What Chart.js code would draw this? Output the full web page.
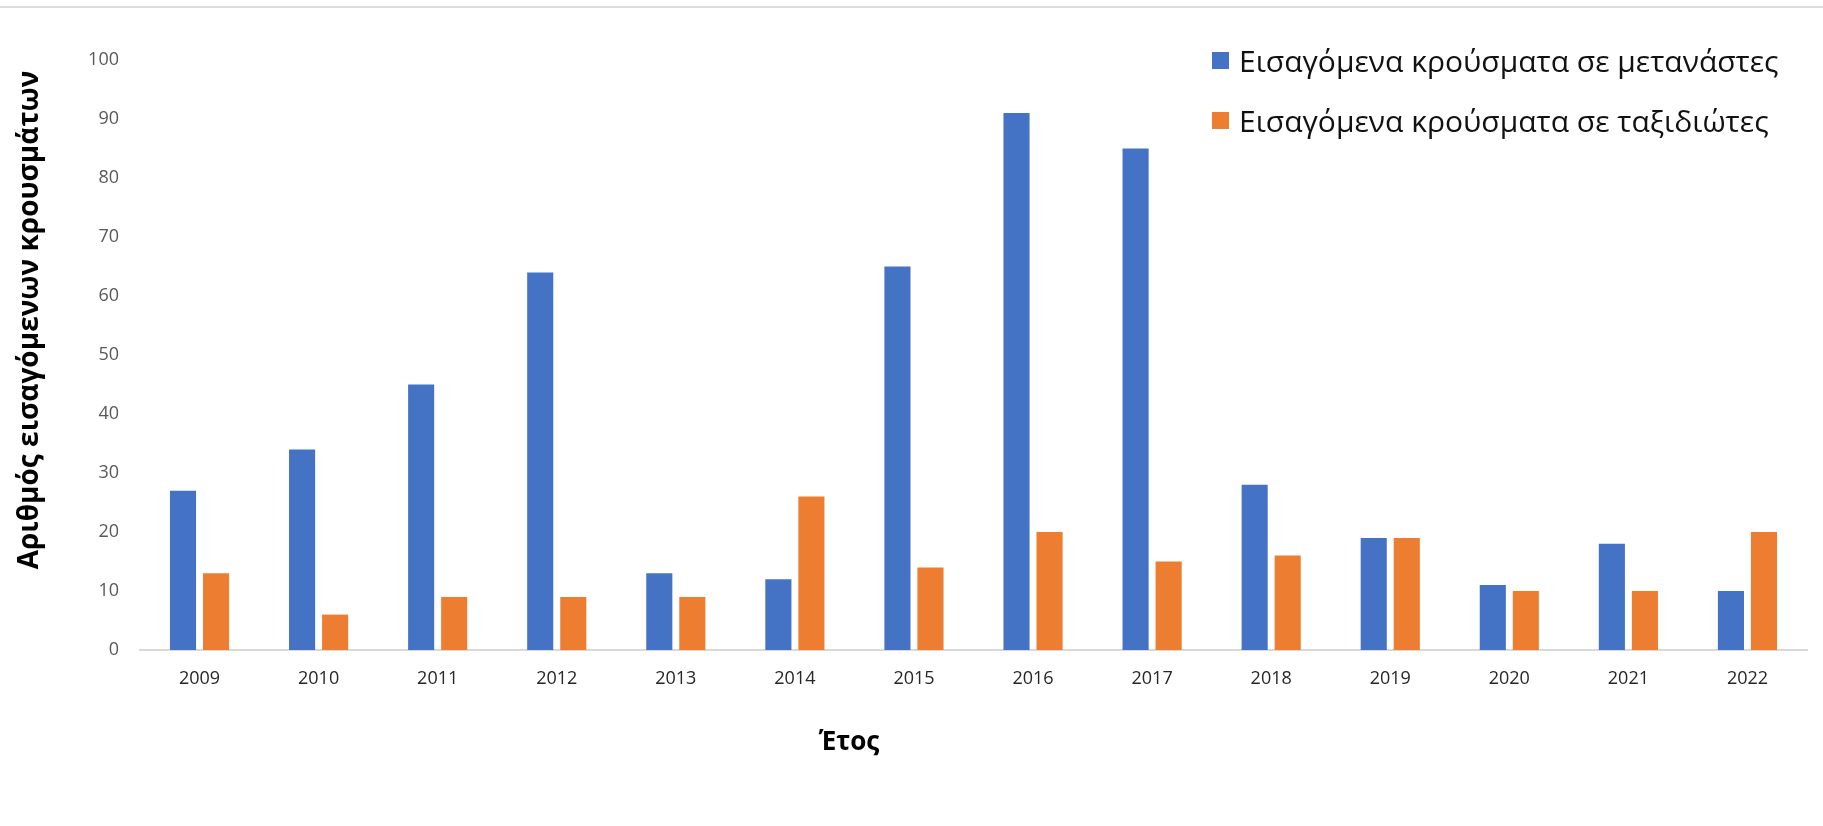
<!DOCTYPE html>
<html>
<head>
<meta charset="utf-8">
<script src="https://cdn.jsdelivr.net/npm/chart.js@4"></script>
<style>
  html, body { margin: 0; padding: 0; background: #fff; }
  #wrap { position: relative; width: 1823px; height: 826px; }
  #topline { position: absolute; left: 0; top: 6px; width: 1823px; height: 0; border-top: 2px solid #dcdcdc; }
  #legend { position: absolute; left: 1212px; top: 40px; font-family: "Open Sans", sans-serif; font-size: 30px; color: #111; }
  #legend .item { display: flex; align-items: center; height: 40px; margin-bottom: 20px; white-space: nowrap; }
  #legend .box { width: 17px; height: 17px; margin-right: 10px; }
</style>
</head>
<body>
<div id="wrap">
  <canvas id="chart" width="1823" height="826"></canvas>
  <div id="topline"></div>
  <div id="legend"></div>
</div>
<script>
const years = ["2009","2010","2011","2012","2013","2014","2015","2016","2017","2018","2019","2020","2021","2022"];
const migrantCases = [27, 34, 45, 64, 13, 12, 65, 91, 85, 28, 19, 11, 18, 10];
const travellerCases = [13, 6, 9, 9, 9, 26, 14, 20, 15, 16, 19, 10, 10, 20];
const seriesNames = ["Εισαγόμενα κρούσματα σε μετανάστες", "Εισαγόμενα κρούσματα σε ταξιδιώτες"];
const seriesColors = ["#4472C4", "#ED7D31"];
const yTitle = "Αριθμός εισαγόμενων κρουσμάτων";
const xTitle = "Έτος";

// axis titles sit a little off-centre, so draw them by hand
const axisTitles = {
    id: "axisTitles",
    afterDraw(chart) {
        const ctx = chart.ctx;
        ctx.save();
        ctx.fillStyle = "#000";
        ctx.textAlign = "center";
        ctx.textBaseline = "middle";
        ctx.font = "bold 26px 'Open Sans', sans-serif";
        ctx.fillText(xTitle, 849, 743);
        ctx.font = "bold 28px 'Open Sans', sans-serif";
        ctx.translate(30, 320);
        ctx.rotate(-Math.PI / 2);
        ctx.fillText(yTitle, 0, 0);
        ctx.restore();
    }
};

const chart = new Chart(document.getElementById("chart"), {
    type: "bar",
    data: {
        labels: years,
        datasets: [
            { label: seriesNames[0], data: migrantCases, backgroundColor: seriesColors[0] },
            { label: seriesNames[1], data: travellerCases, backgroundColor: seriesColors[1] }
        ]
    },
    options: {
        responsive: false,
        animation: false,
        layout: { padding: { left: 0, right: 16, top: 60, bottom: 0 } },
        datasets: {
            bar: { categoryPercentage: 0.555, barPercentage: 0.79 }
        },
        plugins: {
            legend: { display: false },
            tooltip: { enabled: false }
        },
        scales: {
            x: {
                grid: { display: false, drawTicks: false },
                border: { display: true, color: "#d9d9d9", width: 2 },
                ticks: {
                    color: "#262626",
                    padding: 18,
                    font: { family: "'Open Sans', sans-serif", size: 18 }
                },
                afterFit(scale) { scale.height = 176; }
            },
            y: {
                min: 0,
                max: 100,
                grid: { display: false, drawTicks: false },
                border: { display: false },
                ticks: {
                    stepSize: 10,
                    color: "#595959",
                    padding: 21,
                    font: { family: "'Open Sans', sans-serif", size: 18 }
                },
                afterFit(scale) { scale.width = 140; }
            }
        }
    },
    plugins: [axisTitles]
});

const legendEl = document.getElementById("legend");
chart.data.datasets.forEach(ds => {
    const item = document.createElement("div");
    item.className = "item";
    const box = document.createElement("span");
    box.className = "box";
    box.style.background = ds.backgroundColor;
    const txt = document.createElement("span");
    txt.textContent = ds.label;
    item.appendChild(box);
    item.appendChild(txt);
    legendEl.appendChild(item);
});
</script>
</body>
</html>
